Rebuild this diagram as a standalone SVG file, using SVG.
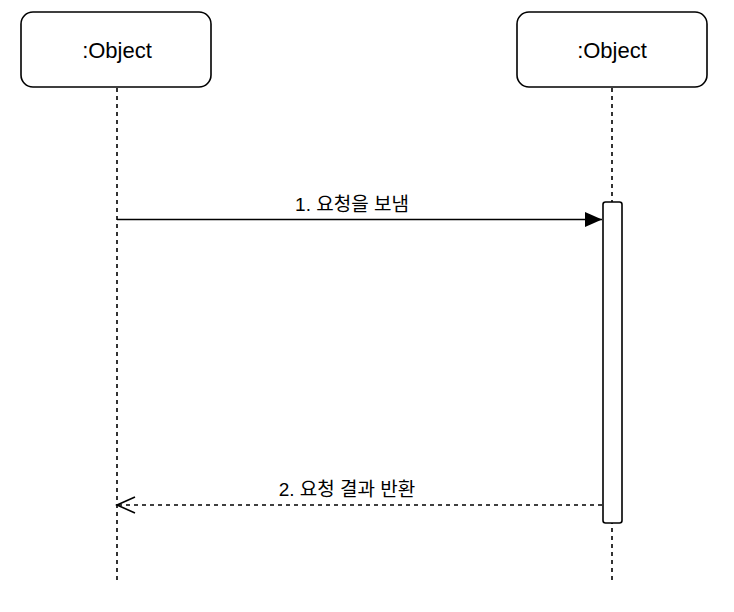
<svg xmlns="http://www.w3.org/2000/svg" width="734" height="612" viewBox="0 0 734 612">
<style>
.box{fill:#fff;stroke:#000;stroke-width:1.6}
.life{stroke:#000;stroke-width:1.6;stroke-dasharray:4 4;fill:none}
.lbl{font-family:"Liberation Sans","Noto Sans CJK KR",Arial,sans-serif;font-size:19px;fill:#000;text-anchor:middle}
.obj{font-family:"Liberation Sans",Arial,sans-serif;font-size:22px;fill:#000;text-anchor:middle}
.msg{stroke:#000;stroke-width:1.6;fill:none}
.dash{stroke-dasharray:4 4}
</style>
<defs>
<marker id="filled" markerUnits="userSpaceOnUse" markerWidth="20" markerHeight="16" refX="17" refY="8" orient="auto" viewBox="0 0 20 16">
<path d="M0,0.5 L17,8 L0,15.5 Z" fill="#000"/>
</marker>
<marker id="open" markerUnits="userSpaceOnUse" markerWidth="22" markerHeight="18" refX="20" refY="9" orient="auto" viewBox="0 0 22 18">
<path d="M2,1 L20,9 L2,17" fill="none" stroke="#000" stroke-width="1.6"/>
</marker>
</defs>
<g id="lifeline-left">
<line class="life" x1="117" y1="88" x2="117" y2="582"/>
<rect class="box" x="21" y="12" width="190" height="75" rx="12" ry="12"/>
<text class="obj" x="117" y="58">:Object</text>
</g>
<g id="lifeline-right">
<line class="life" x1="612" y1="88" x2="612" y2="582"/>
<rect class="box" x="517" y="12" width="190" height="75" rx="12" ry="12"/>
<text class="obj" x="612" y="58">:Object</text>
</g>
<g id="activation">
<rect class="box" x="603" y="202" width="19" height="321" rx="2.5" ry="2.5"/>
</g>
<g id="connectors">
<line class="msg" x1="117" y1="219.5" x2="602" y2="219.5" marker-end="url(#filled)"/>
<text class="lbl" x="352" y="211">1. 요청을 보냄</text>
<line class="msg dash" x1="602" y1="505" x2="117" y2="505" marker-end="url(#open)"/>
<text class="lbl" x="347" y="496">2. 요청 결과 반환</text>
</g>
</svg>
